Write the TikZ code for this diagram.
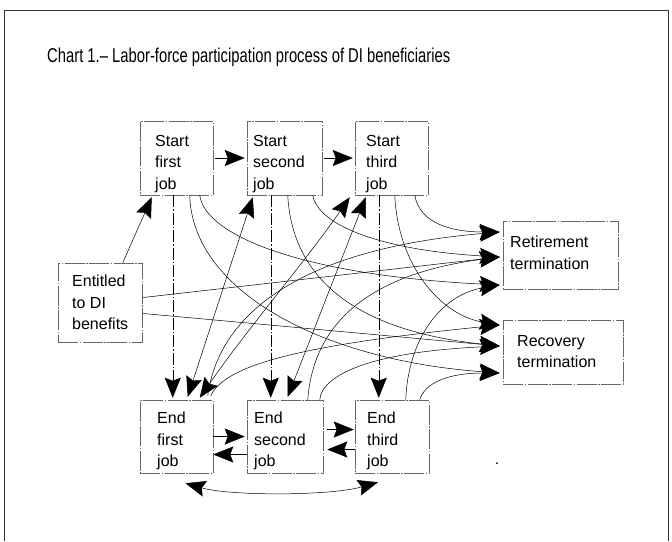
\documentclass[tikz,border=0pt]{standalone}
\usepackage{fontspec}
\setmainfont{Liberation Sans}
\newfontfamily\titlefont[FakeStretch=0.74]{Liberation Sans}
\usetikzlibrary{arrows.meta,calc}
\begin{document}
\begin{tikzpicture}[x=1pt,y=-1pt,
  box/.style={draw=black!60, line width=0.5pt, dash pattern=on 20pt off 1.5pt on 1.5pt off 1.5pt, rectangle, inner sep=0pt},
  lbl/.style={font=\fontsize{16}{21.5}\selectfont, align=left, inner sep=0pt, anchor=north west},
  head/.tip={Stealth[length=20pt,width=16pt,inset=3pt]},
  conn/.style={line width=0.5pt, -head},
  vconn/.style={conn, dash pattern=on 12pt off 2pt on 1.5pt off 2pt},
  both/.style={line width=0.5pt, head-head},
  frame/.style={draw=black!80, line width=0.6pt}
]
\useasboundingbox (0,0) rectangle (672,541);
\draw[frame] (4,541) -- (4,10) -- (668,10) -- (668,541);

\node[inner sep=0pt, anchor=base west, font=\titlefont\fontsize{20}{24}\selectfont] (title) at (47,62) {Chart 1.– Labor-force participation process of DI beneficiaries};

% boxes
\node[box, minimum width=73pt, minimum height=74pt] (s1) at (176.5,158) {};
\node[box, minimum width=75pt, minimum height=74pt] (s2) at (284.5,158) {};
\node[box, minimum width=73pt, minimum height=74pt] (s3) at (391.5,158) {};
\node[box, minimum width=73pt, minimum height=73pt] (e1) at (176.5,436.5) {};
\node[box, minimum width=76pt, minimum height=73pt] (e2) at (285,436.5) {};
\node[box, minimum width=74pt, minimum height=73pt] (e3) at (392,436.5) {};
\node[box, minimum width=84pt, minimum height=79pt] (ent) at (100,302.5) {};
\node[box, minimum width=115pt, minimum height=68pt] (ret) at (560.5,255) {};
\node[box, minimum width=120pt, minimum height=64pt] (rec) at (563,352) {};

% labels
\node[lbl] (s1t) at (155,135) {Start\\first\\job};
\node[lbl] (s2t) at (253,135) {Start\\second\\job};
\node[lbl] (s3t) at (366,135) {Start\\third\\job};
\node[lbl] (e1t) at (157,412) {End\\first\\job};
\node[lbl] (e2t) at (254,412) {End\\second\\job};
\node[lbl] (e3t) at (367,412) {End\\third\\job};
\node[lbl] (entt) at (72,275) {Entitled\\to DI\\benefits};
\node[lbl] (rett) at (510,236) {Retirement\\termination};
\node[lbl] (rect) at (517,335) {Recovery\\termination};

% entitled to first job
\draw[conn] ($(ent.north west)+(65,0)$) -- ($(s1.south west)+(12,2)$);

% horizontal arrows
\draw[conn, shorten >=2pt, shorten <=2pt] (s1) -- (s2);
\draw[conn, shorten >=2pt, shorten <=2pt] (s2) -- (s3);
\draw[conn, shorten >=2pt] (e1) -- (e2);
\draw[conn] ($(e2.west)+(0,18)$) -- ($(e1.east)+(0,18)$);
\draw[conn] ($(e2.east)+(4,-7)$) -- ($(e3.west)+(-1,-7)$);
\draw[conn] ($(e3.west)+(0,13)$) -- ($(e2.east)+(4,13)$);
\draw[both] ($(e1.south)+(9,10)$) .. controls (230,496) and (330,496) .. ($(e3.south)+(-14,9)$);

% vertical start -> end
\draw[vconn] ($(s1.south west)+(33,0)$) -- ($(e1.north west)+(33,-2)$);
\draw[vconn] ($(s2.south west)+(24,0)$) -- ($(e2.north west)+(24,-2)$);
\draw[vconn] ($(s3.south west)+(24,0)$) -- ($(e3.north west)+(24,-2)$);

% end -> next start
\draw[both] ($(e1.north west)+(48,-3)$) -- ($(s2.south west)+(6,2)$);
\draw[both] ($(e1.north west)+(60,-2)$) .. controls (248,328) and (305,262) .. ($(s3.south west)+(-5,2)$);
\draw[both] ($(e2.north west)+(41,-3)$) -- ($(s3.south west)+(11,2)$);

% to retirement / recovery
\draw[conn] ($(s1.south west)+(60,0)$) .. controls (205,235) and (300,275) .. ($(ret.west)+(-3,30)$);
\draw[conn] ($(s1.south west)+(50,0)$) .. controls (192,290) and (320,360) .. ($(rec.west)+(-3,21)$);
\draw[conn] ($(s2.south west)+(66,0)$) .. controls (318,225) and (380,250) .. ($(ret.west)+(-3,2)$);
\draw[conn] ($(s2.south west)+(41,0)$) .. controls (292,275) and (350,330) .. ($(rec.west)+(-3,-6)$);
\draw[conn] ($(s3.south west)+(60,0)$) .. controls (420,225) and (455,232) .. ($(ret.west)+(-3,-23)$);
\draw[conn] ($(s3.south west)+(40,0)$) .. controls (398,265) and (440,315) .. ($(rec.west)+(-3,-27)$);
\draw[conn] ($(ent.east)+(1,-5)$) -- ($(ret.west)+(-3,2)$);
\draw[conn] ($(ent.east)+(1,11)$) -- ($(rec.west)+(-3,-6)$);
\draw[conn] ($(e1.north west)+(68,-4)$) .. controls (218,320) and (290,250) .. ($(ret.west)+(-3,-23)$);
\draw[conn] ($(e1.north west)+(71,-4)$) .. controls (225,365) and (300,345) .. ($(rec.west)+(-3,-27)$);
\draw[conn] ($(e2.north west)+(61,0)$) .. controls (313,330) and (360,275) .. ($(ret.west)+(-3,2)$);
\draw[conn] ($(e2.north west)+(73,0)$) .. controls (322,375) and (370,352) .. ($(rec.west)+(-3,-6)$);
\draw[conn] ($(e3.north west)+(51,0)$) .. controls (408,340) and (440,295) .. ($(ret.west)+(-3,30)$);
\draw[conn] ($(e3.north west)+(65,0)$) .. controls (425,382) and (450,373) .. ($(rec.west)+(-3,21)$);

\fill (497,463) circle (1pt);
\end{tikzpicture}
\end{document}
